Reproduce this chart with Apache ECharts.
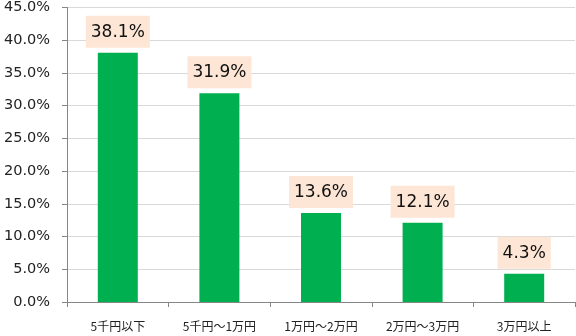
<!DOCTYPE html>
<html>
<head>
<meta charset="utf-8">
<script src="https://cdn.jsdelivr.net/npm/echarts@6/dist/echarts.min.js"></script>
<style>
  html, body { margin: 0; padding: 0; background: #ffffff; }
  #chart { width: 576px; height: 336px; }
</style>
</head>
<body>
<div id="chart"></div>
<script>
// Monthly spending brackets and share of respondents (%)
const categories = ['5千円以下', '5千円～1万円', '1万円～2万円', '2万円～3万円', '3万円以上'];
const shares = [38.1, 31.9, 13.6, 12.1, 4.3];

const chart = echarts.init(document.getElementById('chart'));
chart.setOption({
  animation: false,
  grid: { left: 67, right: 1, top: 6, bottom: 34 },
  xAxis: {
    type: 'category',
    data: categories,
    axisLine: { lineStyle: { color: '#868686', width: 1 } },
    axisTick: { show: true, length: 5, lineStyle: { color: '#868686' } },
    axisLabel: {
      color: '#222', fontSize: 12, margin: 18,
      fontFamily: '"Noto Sans CJK JP", sans-serif'
    }
  },
  yAxis: {
    type: 'value',
    min: 0, max: 45, interval: 5,
    axisLine: { show: true, lineStyle: { color: '#868686', width: 1 } },
    axisTick: { show: true, length: 5, lineStyle: { color: '#868686' } },
    splitLine: { lineStyle: { color: '#d9d9d9', width: 1 } },
    axisLabel: {
      color: '#222', fontSize: 14.5, margin: 17,
      fontFamily: '"DejaVu Sans", Verdana, sans-serif',
      formatter: v => v.toFixed(1) + '%'
    }
  },
  series: [{
    type: 'bar',
    data: shares,
    barWidth: 40,
    itemStyle: { color: '#00b050' },
    label: {
      show: true,
      position: 'top',
      distance: 5,
      formatter: p => p.value.toFixed(1) + '%',
      color: '#111',
      fontSize: 17,
      fontFamily: '"DejaVu Sans", Verdana, sans-serif',
      backgroundColor: '#fde6d5',
      padding: [8, 5, 7, 5]
    }
  }]
});
</script>
</body>
</html>
